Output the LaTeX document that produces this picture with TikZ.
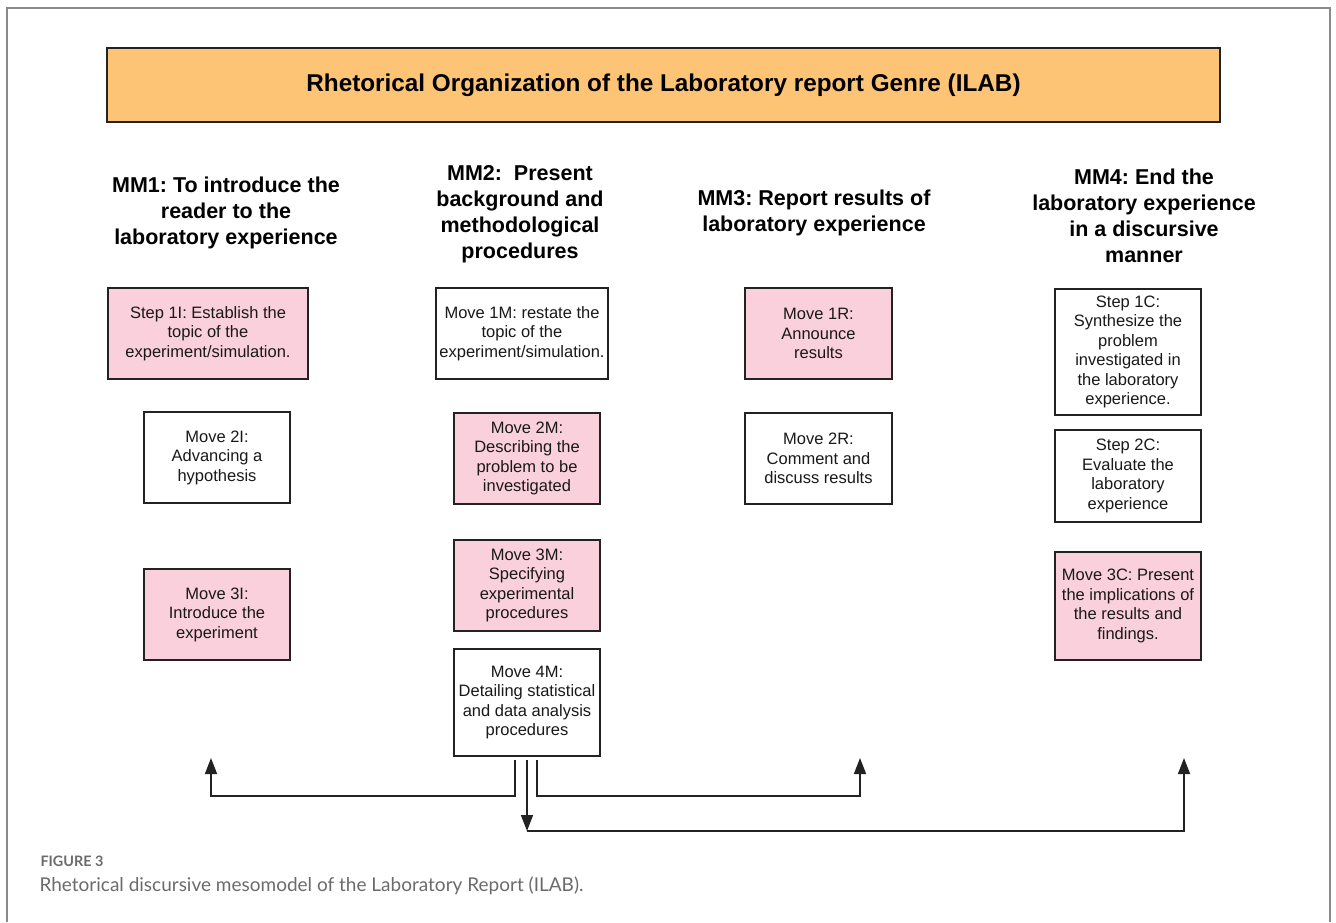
\documentclass[tikz,border=0pt]{standalone}
\usepackage{fontspec}
\setmainfont{Liberation Sans}
\newfontfamily\capfont{Lato}
\usetikzlibrary{arrows.meta,calc}
\frenchspacing
\definecolor{pinkfill}{HTML}{F9D0DC}
\definecolor{orangefill}{HTML}{FDC476}
\definecolor{framegray}{HTML}{8A8A8A}
\definecolor{capgray}{HTML}{6B6B6B}
\definecolor{edge}{HTML}{222222}
\tikzset{
  box/.style={draw=edge, line width=1.6pt, align=center, inner sep=2pt,
    font=\fontsize{16.5}{19.5}\selectfont, text=black!90},
  pinkbox/.style={box, fill=pinkfill},
  whitebox/.style={box, fill=white},
  head/.style={align=center, font=\bfseries\fontsize{21.5}{26}\selectfont},
  conn/.style={draw=edge, line width=1.6pt},
  arr/.style={conn, -{Triangle[length=16pt,width=12pt]}},
}
\begin{document}
\begin{tikzpicture}[x=1pt,y=-1pt]
\useasboundingbox (0,0) rectangle (1336,922);
% frame
\draw[framegray, line width=1.3pt] (7,922) -- (7,8) -- (1330,8) -- (1330,922);
% title
\node[draw=edge, line width=1.8pt, fill=orangefill, minimum width=1113pt, minimum height=74pt,
  font=\bfseries\fontsize{24.3}{28}\selectfont] (title) at (663.5,85) {Rhetorical Organization of the Laboratory report Genre (ILAB)};
% headers
\node[head] (h1) at (226,213) {MM1: To introduce the\\reader to the\\laboratory experience};
\node[head] (h2) at (520,214) {MM2:\ \ Present\\background and\\methodological\\procedures};
\node[head] (h3) at (814,213) {MM3: Report results of\\laboratory experience};
\node[head] (h4) at (1144,216) {MM4: End the\\laboratory experience\\in a discursive\\manner};
% column 1
\node[pinkbox, minimum width=200pt, minimum height=91pt] (s1i) at (208,333.5) {Step 1I: Establish the\\topic of the\\experiment/simulation.};
\node[whitebox, minimum width=146pt, minimum height=91pt] (m2i) at (217,457.5) {Move 2I:\\Advancing a\\hypothesis};
\node[pinkbox, minimum width=146pt, minimum height=91pt] (m3i) at (217,614.5) {Move 3I:\\Introduce the\\experiment};
% column 2
\node[whitebox, minimum width=172pt, minimum height=91pt] (m1m) at (522,333.5) {Move 1M: restate the\\topic of the\\experiment/simulation.};
\node[pinkbox, minimum width=146pt, minimum height=91pt] (m2m) at (527,458.5) {Move 2M:\\Describing the\\problem to be\\investigated};
\node[pinkbox, minimum width=146pt, minimum height=91pt] (m3m) at (527,585.5) {Move 3M:\\Specifying\\experimental\\procedures};
\node[whitebox, minimum width=146pt, minimum height=107pt] (m4m) at (527,702.5) {Move 4M:\\Detailing statistical\\and data analysis\\procedures};
% column 3
\node[pinkbox, minimum width=147pt, minimum height=91pt] (m1r) at (818.5,333.5) {Move 1R:\\Announce\\results};
\node[whitebox, minimum width=147pt, minimum height=91pt] (m2r) at (818.5,458.5) {Move 2R:\\Comment and\\discuss results};
% column 4
\node[whitebox, minimum width=146pt, minimum height=126pt] (s1c) at (1128,352) {Step 1C:\\Synthesize the\\problem\\investigated in\\the laboratory\\experience.};
\node[whitebox, minimum width=146pt, minimum height=92pt] (s2c) at (1128,476) {Step 2C:\\Evaluate the\\laboratory\\experience};
\node[pinkbox, minimum width=146pt, minimum height=108pt] (m3c) at (1128,606) {Move 3C: Present\\the implications of\\the results and\\findings.};
% connector end points
\coordinate (a1) at (211,758);
\coordinate (a3) at (860,758);
\coordinate (a4) at (1184,758);
\coordinate (d2) at (527,831);
% connectors
\draw[arr] ($(m4m.south)+(-12,3)$) -- ++(0,36) -| (a1);
\draw[arr] ($(m4m.south)+(10,3)$) -- ++(0,36) -| (a3);
\draw[arr] ($(m4m.south)+(0,3)$) -- (d2);
\draw[arr] (d2) -| (a4);
% caption
\node[anchor=west, text=capgray, font=\capfont\bfseries\fontsize{14.4}{16}\selectfont] (figlab) at (37,861) {FIGURE 3};
\node[anchor=west, text=capgray, font=\capfont\fontsize{19}{23}\selectfont] (cap) at (36,886) {Rhetorical discursive mesomodel of the Laboratory Report (ILAB).};
\end{tikzpicture}
\end{document}
